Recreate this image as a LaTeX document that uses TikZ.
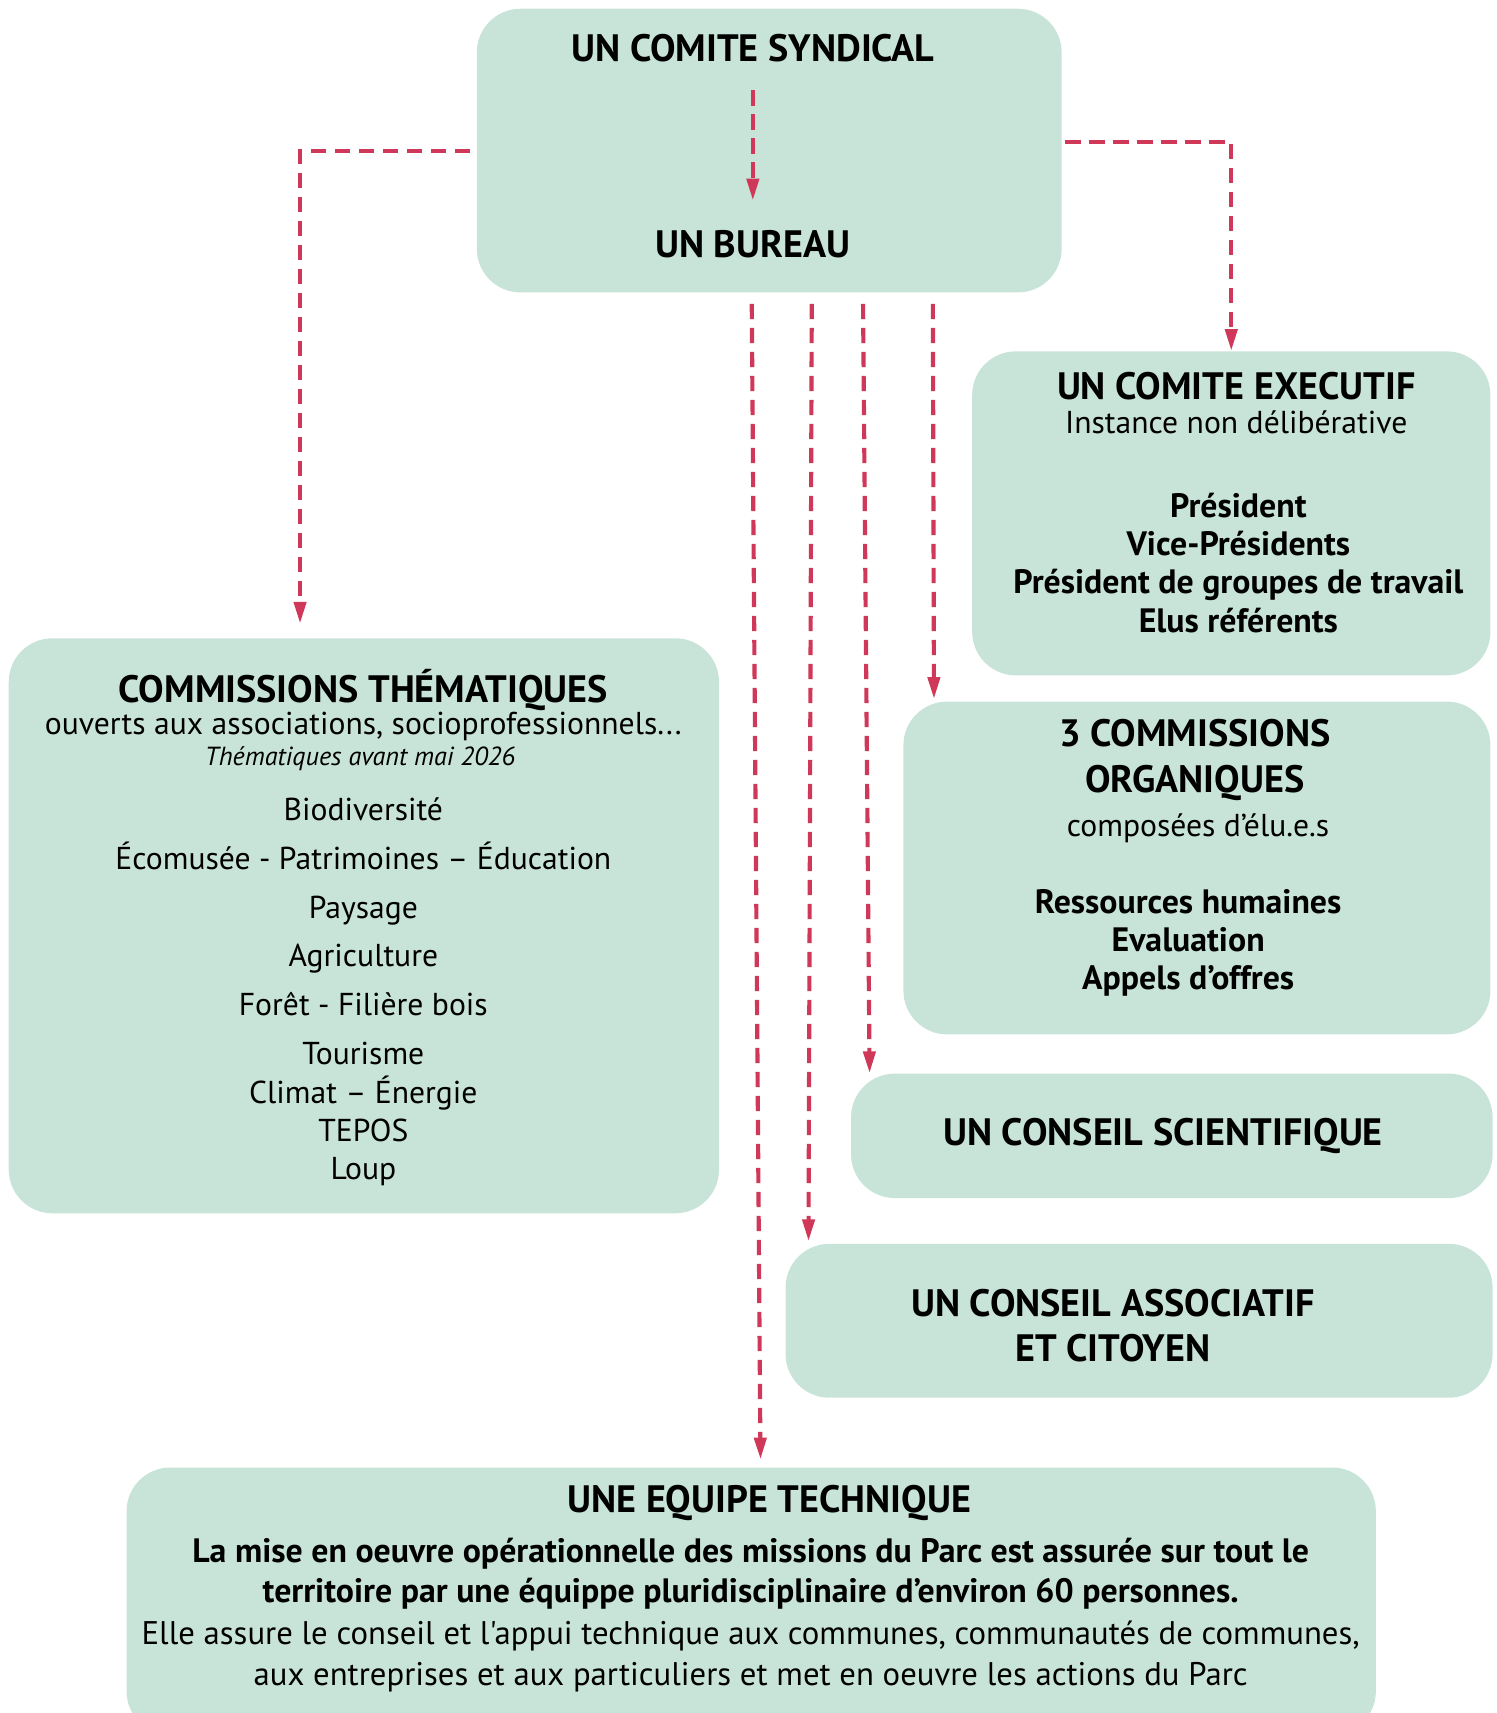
\documentclass[tikz,border=0pt]{standalone}
\usepackage{fontspec}
\setmainfont{PT Sans}[Ligatures=TeXOff]
\usetikzlibrary{arrows.meta,calc}
\definecolor{boxc}{RGB}{200,228,217}
\definecolor{arrc}{RGB}{207,56,88}
\begin{document}
\begin{tikzpicture}[x=0.5pt,y=-0.5pt,
  box/.style={rectangle,fill=boxc,rounded corners=20pt,inner sep=0pt},
  conn/.style={draw=arrc,line width=1.9pt,dash pattern=on 7pt off 4pt,-{Triangle[length=10pt,width=5.5pt]}},
  title/.style={anchor=base,inner sep=0pt,font=\fontsize{17.5pt}{20pt}\selectfont\bfseries},
  bodyb/.style={anchor=base,inner sep=0pt,font=\fontsize{15.5pt}{18pt}\selectfont\bfseries},
  body/.style={anchor=base,inner sep=0pt,font=\fontsize{14.5pt}{17pt}\selectfont},
  bodyl/.style={anchor=base,inner sep=0pt,font=\fontsize{15pt}{17pt}\selectfont},
  small/.style={anchor=base,inner sep=0pt,font=\fontsize{12pt}{14pt}\selectfont\itshape},
]
\useasboundingbox (0,0) rectangle (1372,1570);
\clip (0,0) rectangle (1372,1570);
% boxes
\node[box,minimum width=268pt,minimum height=130pt] (comite) at (705,138) {};
\node[box,minimum width=237.5pt,minimum height=148.5pt] (exec) at (1128.5,470.5) {};
\node[box,minimum width=269pt,minimum height=152.5pt] (organ) at (1097,795.5) {};
\node[box,minimum width=294pt,minimum height=57pt] (scient) at (1074,1041) {};
\node[box,minimum width=324pt,minimum height=70.5pt] (assoc) at (1044,1210.5) {};
\node[box,minimum width=325.5pt,minimum height=263.5pt] (themat) at (333.5,848.5) {};
\node[box,minimum width=572.5pt,minimum height=122.5pt] (equipe) at (688.5,1467.5) {};
% comite texts
\node[title] (tsyn) at (690,56) {UN COMITE SYNDICAL};
\node[title] (tbur) at (690,236) {UN BUREAU};
% exec texts
\node[title] (exT) at (1133,366) {UN COMITE EXECUTIF};
\node[body] (exS) at (1133,397) {Instance non délibérative};
\node[bodyb] (ex1) at (1135,474) {Président};
\node[bodyb] (ex2) at (1135,509) {Vice-Présidents};
\node[bodyb] (ex3) at (1135,544) {Président de groupes de travail};
\node[bodyb] (ex4) at (1135,580) {Elus référents};
% organ texts
\node[title] (orT1) at (1095,684) {3 COMMISSIONS};
\node[title] (orT2) at (1095,726) {ORGANIQUES};
\node[body] (orS) at (1098,767) {composées d’élu.e.s};
\node[bodyb] (or1) at (1089,837) {Ressources humaines};
\node[bodyb] (or2) at (1089,872) {Evaluation};
\node[bodyb] (or3) at (1089,907) {Appels d’offres};
% scient / assoc
\node[title] (scT) at (1066,1050) {UN CONSEIL SCIENTIFIQUE};
\node[title] (asT1) at (1020,1207) {UN CONSEIL ASSOCIATIF};
\node[title] (asT2) at (1020,1248) {ET CITOYEN};
% thematic
\node[title] (thT) at (333,644) {COMMISSIONS THÉMATIQUES};
\node[body] (thS) at (333,673) {ouverts aux associations, socioprofessionnels...};
\node[small] (thI) at (330,702) {Thématiques avant mai 2026};
\node[body] (th1) at (333,752) {Biodiversité};
\node[body] (th2) at (333,797) {Écomusée - Patrimoines – Éducation};
\node[body] (th3) at (333,842) {Paysage};
\node[body] (th4) at (333,886) {Agriculture};
\node[body] (th5) at (333,931) {Forêt - Filière bois};
\node[body] (th6) at (333,976) {Tourisme};
\node[body] (th7) at (333,1011) {Climat – Énergie};
\node[body] (th8) at (333,1046) {TEPOS};
\node[body] (th9) at (333,1081) {Loup};
% equipe
\node[title] (eqT) at (705,1386) {UNE EQUIPE TECHNIQUE};
\node[bodyb] (eq1) at (688,1432) {La mise en oeuvre opérationnelle des missions du Parc est assurée sur tout le};
\node[bodyb] (eq2) at (688,1469) {territoire par une équippe pluridisciplinaire d’environ 60 personnes.};
\node[bodyl] (eq3) at (688,1507) {Elle assure le conseil et l'appui technique aux communes, communautés de communes,};
\node[bodyl] (eq4) at (688,1545) {aux entreprises et aux particuliers et met en oeuvre les actions du Parc};
% helper coordinates
\coordinate (lx) at (275,0);
\coordinate (b1s) at (689,0); \coordinate (b1e) at (697,0);
\coordinate (b2s) at (744,0); \coordinate (b2e) at (741,0);
\coordinate (b3s) at (791,0); \coordinate (b3e) at (797,0);
\coordinate (b4s) at (855,0); \coordinate (b4e) at (856,0);
% connectors
\draw[conn] ($(tsyn.south)+(0,-13pt)$) -- ($(tbur.north)+(0,13.5pt)$);
\draw[conn] ($(comite.west)+(-3pt,0)$) -| ($(themat.north -| lx)+(0,6.5pt)$);
\draw[conn] ($(comite.east)+(1.5pt,4pt)$) -| (exec.north);
\draw[conn] ($(comite.south -| b1s)+(0,-5pt)$) -- ($(equipe.north -| b1e)+(0,3.5pt)$);
\draw[conn] ($(comite.south -| b2s)+(0,-5pt)$) -- ($(assoc.north -| b2e)+(0,1pt)$);
\draw[conn] ($(comite.south -| b3s)+(0,-5pt)$) -- (scient.north -| b3e);
\draw[conn] ($(comite.south -| b4s)+(0,-5pt)$) -- ($(organ.north -| b4e)+(0,1pt)$);
\end{tikzpicture}
\end{document}
